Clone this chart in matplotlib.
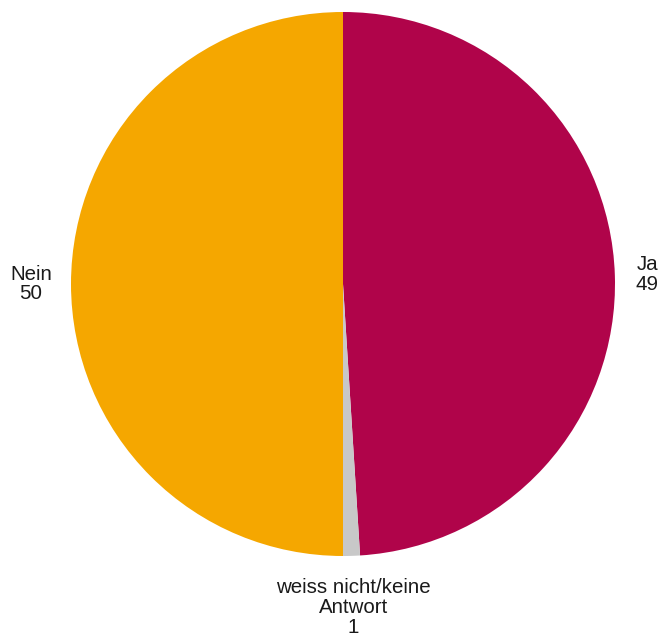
import numpy as np
import matplotlib.pyplot as plt

plt.rcParams['font.family'] = ['Liberation Sans', 'DejaVu Sans']

categories = ['Ja', 'weiss nicht/keine\nAntwort', 'Nein']
values = [49, 1, 50]
colors = ['#B0044A', '#C8C8C8', '#F5A700']
label_dist = [1.12, 1.19, 1.147]

fig = plt.figure(figsize=(6.62, 6.36), dpi=100)
cx, cy, r = 343, 284, 272
ax = fig.add_axes([(cx - r) / 662, (636 - cy - r) / 636, 2 * r / 662, 2 * r / 636])

wedges, _ = ax.pie(values, colors=colors, startangle=90, counterclock=False,
                   radius=1, wedgeprops=dict(linewidth=0))
ax.set_xlim(-1, 1)
ax.set_ylim(-1, 1)
ax.set_aspect('equal')
ax.axis('off')

for w, lab, v, d in zip(wedges, categories, values, label_dist):
    ang = np.deg2rad((w.theta1 + w.theta2) / 2)
    ax.text(d * np.cos(ang), d * np.sin(ang), f'{lab}\n{v}', ha='center', va='center',
            fontsize=14.8, color='#1a1a1a', linespacing=1.05, clip_on=False)

fig.savefig('out.png', dpi=100)
